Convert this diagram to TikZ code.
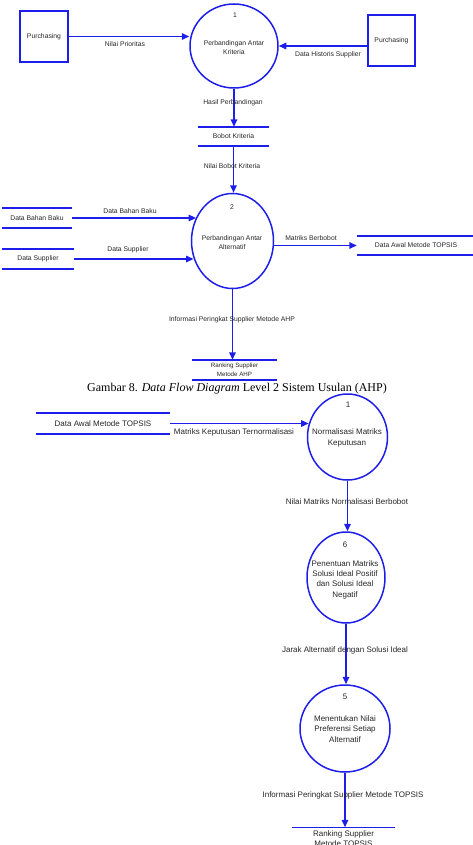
\documentclass[tikz,border=0pt]{standalone}
\usepackage{fontspec}
\setmainfont{Liberation Sans}
\newfontfamily\capfont{Liberation Serif}
\usetikzlibrary{arrows.meta,shapes.geometric,calc}
\definecolor{dfdblue}{RGB}{30,30,235}
\tikzset{
  ln/.style={draw=dfdblue,line width=1.5pt},
  flow/.style={ln,-{Triangle[length=7.5pt,width=6.5pt]}},
  proc/.style={ln,ellipse,inner sep=0pt},
  ent/.style={ln,rectangle,inner sep=0pt},
  tA/.style={font=\fontsize{6.8}{9}\selectfont,inner sep=0pt,align=center,text=black!85},
  tB/.style={font=\fontsize{8}{10.3}\selectfont,inner sep=0pt,align=center,text=black!85},
  store/.style={inner sep=0pt}
}
\begin{document}
\begin{tikzpicture}[x=1pt,y=-1pt]
\useasboundingbox (0,0) rectangle (473,845);
\clip (0,0) rectangle (473,845);

% ---------- Top diagram (AHP) ----------
\node[ent,tA,minimum width=48pt,minimum height=51pt] (pur1) at (44,36.5) {Purchasing};
\node[ent,tA,minimum width=47pt,minimum height=51pt] (pur2) at (391.5,40.5) {Purchasing};
\node[proc,minimum width=88pt,minimum height=84pt] (p1) at (234,46) {};
\node[tA] (p1n) at (235,15) {1};
\node[tA] (p1t) at (234,47.5) {Perbandingan Antar\\Kriteria};

\draw[flow] (pur1.east) -- (pur1.east -| p1.west);
\node[tA] (l1) at (125,44) {Nilai Prioritas};
\draw[flow] (pur2.west |- p1.east) -- (p1.east);
\node[tA] (l2) at (328,55) {Data Historis Supplier};

\node[store,tA,minimum width=71pt,minimum height=19pt] (sb) at (233.5,136.5) {Bobot Kriteria};
\draw[ln] (sb.north west) -- (sb.north east) (sb.south west) -- (sb.south east);
\draw[flow] (p1.south) -- (p1.south |- sb.north);
\node[tA] (l3) at (233,103) {Hasil Perbandingan};

\node[proc,minimum width=82pt,minimum height=95pt] (p2) at (232.5,241) {};
\node[tA] (p2n) at (232,207) {2};
\node[tA] (p2t) at (232,243) {Perbandingan Antar\\Alternatif};
\draw[flow] (sb.south) -- (sb.south |- p2.north);
\node[tA] (l4) at (232,166) {Nilai Bobot Kriteria};

\node[store,tA,minimum width=70pt,minimum height=20pt] (sdb) at (37,218) {Data Bahan Baku};
\draw[ln] (sdb.north west) -- (sdb.north east) (sdb.south west) -- (sdb.south east);
\node[store,tA,minimum width=72pt,minimum height=20pt] (sds) at (38,259) {Data Supplier};
\draw[ln] (sds.north west) -- (sds.north east) (sds.south west) -- (sds.south east);
\draw[flow] (sdb.east) -- (sdb.east -| p2.147);
\node[tA] (l5) at (130,211) {Data Bahan Baku};
\draw[flow] (sds.east) -- (sds.east -| p2.204);
\node[tA] (l6) at (128,250) {Data Supplier};

\node[store,tA,minimum width=118pt,minimum height=19pt] (sda) at (416,245.5) {Data Awal Metode TOPSIS};
\draw[ln] (sda.north west) -- (sda.north east) (sda.south west) -- (sda.south east);
\draw[flow] (sda.west -| p2.east) -- (sda.west);
\node[tA] (l7) at (311,238) {Matriks Berbobot};

\node[store,font=\fontsize{6.2}{9}\selectfont,align=center,text=black!85,minimum width=85pt,minimum height=20pt] (sra) at (234.5,370) {Ranking Supplier\\Metode AHP};
\draw[ln] (sra.north west) -- (sra.north east) (sra.south west) -- (sra.south east);
\draw[flow] (p2.south) -- (p2.south |- sra.north);
\node[tA] (l8) at (232,320) {Informasi Peringkat Supplier Metode AHP};

\node[font=\capfont\fontsize{12}{14}\selectfont,inner sep=0pt] (cap) at (237,388.5) {Gambar 8. \textit{Data Flow Diagram} Level 2 Sistem Usulan (AHP)};

% ---------- Bottom diagram (TOPSIS) ----------
\node[store,tB,minimum width=134pt,minimum height=21pt] (sdb2) at (103,423.5) {Data Awal Metode TOPSIS};
\draw[ln] (sdb2.north west) -- (sdb2.north east) (sdb2.south west) -- (sdb2.south east);

\node[proc,minimum width=80pt,minimum height=86pt] (q1) at (347.5,437) {};
\node[tB] (q1n) at (348,405) {1};
\node[tB] (q1t) at (347,438) {Normalisasi Matriks\\Keputusan};
\draw[flow] (sdb2.east) -- (sdb2.east -| q1.161);
\node[tB] (m1) at (234,432) {Matriks Keputusan Ternormalisasi};

\node[proc,minimum width=78pt,minimum height=91pt] (q6) at (346,577.5) {};
\node[tB] (q6n) at (345,545) {6};
\node[tB] (q6t) at (345,579.5) {Penentuan Matriks\\Solusi Ideal Positif\\dan Solusi Ideal\\Negatif};
\draw[flow] (q1.south) -- (q1.south |- q6.north);
\node[tB] (m2) at (347,502) {Nilai Matriks Normalisasi Berbobot};

\node[proc,minimum width=90pt,minimum height=87pt] (q5) at (345,728.5) {};
\node[tB] (q5n) at (345,697) {5};
\node[tB] (q5t) at (345,729) {Menentukan Nilai\\Preferensi Setiap\\Alternatif};
\draw[flow] (q6.south) -- (q6.south |- q5.north);
\node[tB] (m3) at (345,650) {Jarak Alternatif dengan Solusi Ideal};

\node[store,tB,minimum width=103pt,minimum height=22pt] (srt) at (343.5,838.5) {Ranking Supplier\\Metode TOPSIS};
\draw[ln] (srt.north west) -- (srt.north east) (srt.south west) -- (srt.south east);
\draw[flow] (q5.south) -- (q5.south |- srt.north);
\node[tB] (m4) at (343,795) {Informasi Peringkat Supplier Metode TOPSIS};
\end{tikzpicture}
\end{document}
